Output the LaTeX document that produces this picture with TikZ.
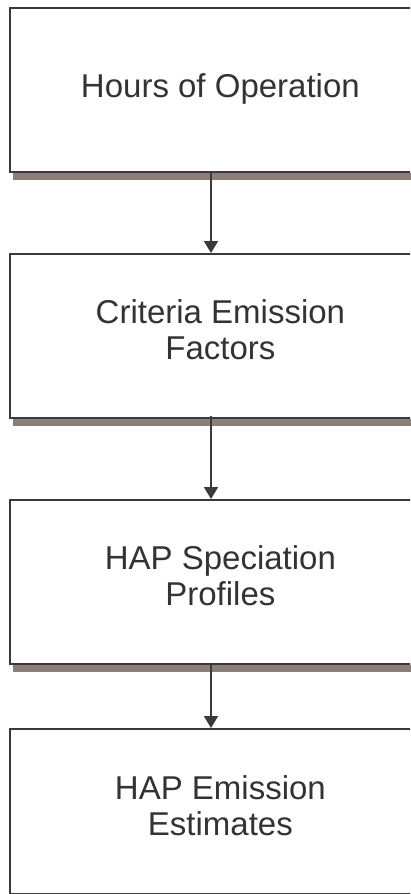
\documentclass[tikz,border=0pt]{standalone}
\usepackage{fontspec}
\setmainfont{Liberation Sans}
\usetikzlibrary{arrows.meta,backgrounds}
\definecolor{linec}{HTML}{3A3A3E}
\definecolor{textc}{HTML}{333333}
\definecolor{shadowc}{HTML}{8C7F7A}
\tikzset{
  box/.style={draw=linec, line width=1.8pt, fill=white, anchor=north west,
    minimum width=421pt, minimum height=164pt, inner sep=0pt},
  txt/.style={align=center, text=textc, inner sep=0pt,
    font=\fontsize{33}{36}\selectfont},
  conn/.style={draw=linec, line width=1.8pt, -{Triangle[width=14pt,length=12pt]}},
}
\begin{document}
\begin{tikzpicture}[x=1pt,y=-1pt]
\useasboundingbox (0,0) rectangle (410,894);
\clip (0,0) rectangle (410,894);
\node[box] (b1) at (9,7) {};
\node[box] (b2) at (9,253) {};
\node[box] (b3) at (9,499) {};
\node[box, minimum height=165pt] (b4) at (9,728) {};
\node[txt] (t1) at ([yshift=1pt]b1.center) {Hours of Operation};
\node[txt] (t2) at ([yshift=6pt]b2.center) {Criteria Emission\\Factors};
\node[txt] (t3) at ([yshift=6pt]b3.center) {HAP Speciation\\Profiles};
\node[txt] (t4) at ([yshift=6pt]b4.center) {HAP Emission\\Estimates};
\begin{scope}[on background layer]
\fill[white] (0,0) rectangle (410,894);
\foreach \b in {b1,b2,b3,b4}{
  \fill[shadowc] ([xshift=4pt]\b.south west) rectangle ([yshift=-7pt]\b.south east);
}
\end{scope}
\coordinate (s1) at (211,171);
\coordinate (s2) at (211,416);
\coordinate (s3) at (211,663);
\draw[conn] (s1) -- (s1 |- b2.north);
\draw[conn] (s2) -- (s2 |- b3.north);
\draw[conn] (s3) -- (s3 |- b4.north);
\end{tikzpicture}
\end{document}
